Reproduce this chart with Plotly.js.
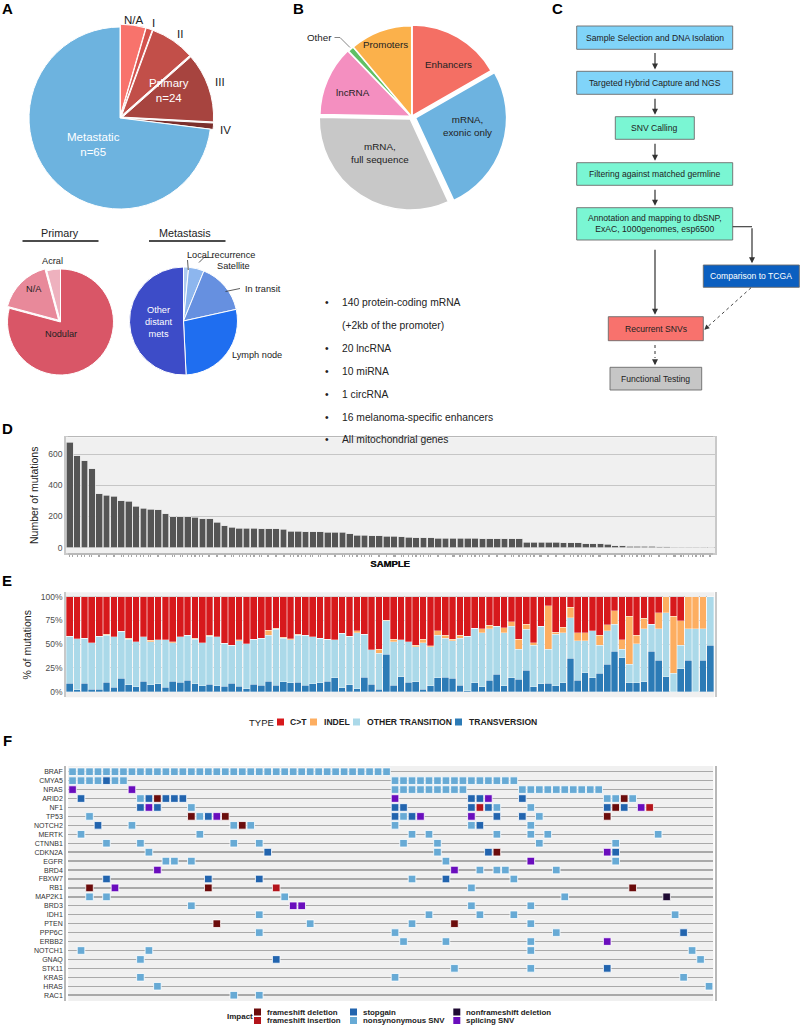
<!DOCTYPE html>
<html>
<head>
<meta charset="utf-8">
<script src="https://cdn.plot.ly/plotly-3.0.1.min.js"></script>
<style>
html,body{margin:0;padding:0;background:#ffffff;}
#fig{width:800px;height:1026px;}
</style>
</head>
<body>
<div id="fig"></div>
<script>
// ================= DATA =================
// Panel A
const stageLabels = ['N/A','I','II','III','IV','Metastatic'];
const stageCounts = [4,1,7,11,1,65];
const primarySubtypes = ['Nodular','N/A','Acral'];
const primarySubtypeCounts = [19,4,1];
const metastasisSites = ['Local recurrence','Satellite','In transit','Lymph node','Other distant mets'];
const metastasisCounts = [1,3,10,18,33];
// Panel B
const targetRegions = ['Enhancers','mRNA, exonic only','mRNA, full sequence','lncRNA','Other','Promoters'];
const targetShares = [16.7,26.4,32.2,12.5,1.1,11.1];
const panelContents = ['140 protein-coding mRNA','(+2kb of the promoter)','20 lncRNA','10 miRNA','1 circRNA','16 melanoma-specific enhancers','All mitochondrial genes'];
const panelBullets = [true,false,true,true,true,true,true];
// Panel C
const workflowSteps = ['Sample Selection and DNA Isolation','Targeted Hybrid Capture and NGS','SNV Calling','Filtering against matched germline','Annotation and mapping to dbSNP,<br>ExAC, 1000genomes, esp6500','Comparison to TCGA','Recurrent SNVs','Functional Testing'];
// Panel D : mutations per sample (sorted)
const mutationCounts = [674,588,558,505,344,336,329,302,297,265,252,246,244,218,199,199,197,195,186,186,
  163,141,130,124,124,124,122,120,120,118,105,105,103,103,103,100,98,98,90,81,
  79,75,75,73,73,70,66,65,64,63,62,61,61,60,60,59,58,58,57,57,
  56,56,36,35,35,34,34,33,33,32,26,25,24,23,14,13,10,9,9,8,
  5,5,4,3,2,2,2,1];
// Panel E : % of mutations by type, same sample order
const pctTransversion = [8.8,1.8,8.8,2.8,2.8,9.8,4.6,14.0,7.4,5.3,10.9,7.4,8.1,4.9,10.9,9.8,11.9,8.1,6.0,7.7,
  6.0,5.6,9.1,5.6,3.2,7.7,6.7,11.2,6.7,10.5,9.5,9.8,6.7,8.1,9.5,11.2,14.7,4.2,7.4,3.2,
  15.1,7.7,2.8,39.3,6.7,15.8,9.8,10.5,2.8,6.0,14.7,15.1,14.0,6.7,1.0,9.5,5.3,12.3,18.6,6.0,
  14.7,13.0,22.8,5.3,8.4,8.8,6.3,9.5,35.1,12.3,20.0,14.7,19.3,28.8,42.5,35.8,9.5,9.5,10.5,42.5,
  33.0,15.8,0,24.2,33.0,0,33.0,49.1];
const pctOtherTransition = [49.8,54.0,47.7,48.8,55.8,49.5,53.3,49.5,48.0,47.3,47.0,45.2,46.6,49.8,40.7,48.1,47.4,47.3,45.6,50.9,
  51.9,45.3,40.0,48.1,47.0,47.4,49.8,48.4,58.9,46.0,45.2,49.5,52.9,49.8,46.6,44.2,40.0,57.2,51.2,58.9,
  45.6,36.2,37.6,35.4,45.9,38.6,42.8,36.9,48.8,41.4,44.6,41.0,39.7,49.4,57.6,57.2,56.8,54.0,50.5,56.1,
  54.4,31.6,42.8,43.8,60.7,36.1,54.4,52.6,42.8,41.4,33.7,49.5,29.8,35.4,28.4,9.1,19.6,40.7,55.5,28.4,
  33.0,67.4,19.3,24.9,33.0,66.0,33.0,50.9];
const pctIndel = [0,0,0,0,0,1.1,0,0,0.6,0,0,1.4,0,0,0.7,0,0,1.1,0,1.0,
  0,0,0,1.0,0,0,0,5.3,1.1,1.0,1.1,1.1,0,0,0,0,0,0,0,2.1,
  0,0,4.2,0.7,2.5,0,0,1.4,3.5,0.7,4.6,3.2,1.4,3.5,0,0,4.2,3.5,0,5.3,
  4.6,10.5,5.3,2.5,0,45.3,2.1,5.6,10.9,8.4,8.4,0,10.2,6.0,14.4,9.5,50.5,9.4,11.2,0,
  17.2,16.8,60.3,25.6,34.0,34.0,34.0,0];
const pctCtoT = [41.4,44.2,43.5,48.4,41.4,39.6,42.1,36.5,44.0,47.4,42.1,46.0,45.3,45.3,47.7,42.1,40.7,43.5,48.4,40.4,
  42.1,49.1,50.9,45.3,49.8,44.9,43.5,35.1,33.3,42.5,44.2,39.6,40.4,42.1,43.9,44.6,45.3,38.6,41.4,35.8,
  39.3,56.1,55.4,24.6,44.9,45.6,47.4,51.2,44.9,51.9,36.1,40.7,44.9,40.4,41.4,33.3,33.7,30.2,30.9,32.6,
  26.3,44.9,29.1,48.4,30.9,9.8,37.2,32.3,11.2,37.9,37.9,35.8,40.7,29.8,14.7,45.6,20.4,40.4,22.8,29.1,
  16.8,0,20.4,25.3,0,0,0,0];
const mutationTypes = ['TRANSVERSION','OTHER TRANSITION','INDEL','C>T'];
// Panel F : oncoprint (one string per gene, one char per sample column; '|' every 10 columns)
// D=frameshift deletion, I=frameshift insertion, S=stopgain, N=nonsynonymous SNV, X=nonframeshift deletion, P=splicing SNV
const oncoGenes = ['BRAF','CMYA5','NRAS','ARID2','NF1','TP53','NOTCH2','MERTK','CTNNB1','CDKN2A','EGFR','BRD4','FBXW7','RB1','MAP2K1','BRD3','IDH1','PTEN','PPP6C','ERBB2','NOTCH1','GNAQ','STK11','KRAS','HRAS','RAC1'];
const oncoMatrix = [
 'NNNNNNNNNN|NNNNNNNNNN|NNNNNNNNNN|NNNNNNNN..|..........|..........|..........|......',
 'NNNNSNN...|..........|..........|........NN|NNNNNNNNNN|NNN.......|..........|......',
 'P......P..|..........|..........|........NN|NNNNNNN...|...NNNNNNN|NNN.......|......',
 '.S......NS|DSSS......|..........|........P.|.......SSP|...S......|...NNDN...|......',
 '........SP|S...N.....|..........|........SS|.......SIS|N...N.....|...SDS.PI.|......',
 '..N.......|....DNSPD.|..........|........SN|SP.....P..|S..S.N....|...D......|......',
 '...S...N..|.........N|DN........|........N.|.......NS.|....N.....|..........|......',
 '.N........|.....N....|..........|..........|N.N.......|N...N.N...|.........N|......',
 '....N...N.|.........N|..N.......|.........N|...N......|.....N....|....N.....|......',
 '.........N|..........|...S......|..........|...N.....S|D.........|...PS.....|......',
 '..........|.NN.N.....|..........|..........|....N.....|....P.....|....N.....|......',
 '..........|P.........|..........|..........|.....P..N.|NN.....N..|..........|......',
 '....S.....|......S...|..S.......|..........|N...S.....|..N.......|..........|......',
 '..D..P....|......D...|....I.....|..........|.......N..|..........|......D...|......',
 '..N.N.....|..........|.....N....|..........|..........|........N.|..........|X.....',
 '..........|....N.....|......PP..|..........|.......N..|....N.....|..........|......',
 '..........|..........|..N.......|..........|..N.....N.|..N.......|..........|.N....',
 '..........|.......D..|........N.|..........|N....D....|....N.....|..........|......',
 '..........|..........|..N.......|........N.|..........|.......N..|..........|..S...',
 '..........|..........|..........|.........N|....N.....|....N.....|...P......|......',
 '.N.......N|..........|..........|..........|..........|....N.....|..........|...N..',
 '........N.|..........|....S.....|..........|..........|..........|..........|....N.',
 '..........|..........|..........|..........|.....N....|....N.....|...S......|......',
 '........N.|..........|..........|........N.|..........|..........|..........|..N...',
 '..........|N.........|..........|..........|..........|..........|..........|.....N',
 '..........|.........N|..N.......|..........|..........|..........|..........|......'
];
const impactTypes = ['frameshift deletion','frameshift insertion','stopgain','nonsynonymous SNV','nonframeshift deletion','splicing SNV'];
const impactCodes = ['D','I','S','N','X','P'];

// ================= STYLE =================
const FONT = 'Liberation Sans, Arial, Helvetica, sans-serif';
const W = 800, H = 1026;
const P = x => x / W;
const Q = y => 1 - y / H;
const stageColors = ['#f8736c','#d3524d','#c24f49','#a7443f','#7b2f2c','#6db3df'];
const primaryColors = ['#d95667','#e8899a','#eeb1be'];
const metColors = ['#aecbf0','#8db6ee','#6690e0','#1f6ef0','#3d4cc8'];
const regionColors = ['#f46f64','#6db3e0','#c8c8c8','#f48fc0','#5fc065','#fbb14b'];
const typeColors = {'TRANSVERSION':'#2c7bb6','OTHER TRANSITION':'#abd9e9','INDEL':'#fdae61','C>T':'#d7191c'};
const impactColors = ['#6b0c0c','#b3141b','#2264ae','#67aad5','#1f0b33','#6a0dbd'];

function pieDomain(cx, cy, r, pull){
  const h = r * (1 + pull);
  return {x:[P(cx - h), P(cx + h)], y:[Q(cy + h), Q(cy - h)]};
}

const traces = [];
// ---- Panel A pies
traces.push({type:'pie', labels:stageLabels, values:stageCounts, sort:false, direction:'clockwise', rotation:0,
  marker:{colors:stageColors, line:{color:'#ffffff', width:1}}, pull:[0.03,0.03,0.03,0.03,0.03,0],
  textinfo:'none', hoverinfo:'skip', showlegend:false, domain:pieDomain(120,118,91,0.03)});
traces.push({type:'pie', labels:primarySubtypes, values:primarySubtypeCounts, sort:false, direction:'clockwise', rotation:0,
  marker:{colors:primaryColors, line:{color:'#ffffff', width:1}}, pull:[0,0.05,0],
  textinfo:'none', hoverinfo:'skip', showlegend:false, domain:pieDomain(60.5,322,53,0.05)});
traces.push({type:'pie', labels:metastasisSites, values:metastasisCounts, sort:false, direction:'clockwise', rotation:0,
  marker:{colors:metColors, line:{color:'#ffffff', width:1}},
  textinfo:'none', hoverinfo:'skip', showlegend:false, domain:pieDomain(183.5,321,54,0)});
// ---- Panel B pie
traces.push({type:'pie', labels:targetRegions, values:targetShares, sort:false, direction:'clockwise', rotation:0,
  marker:{colors:regionColors, line:{color:'#ffffff', width:1.5}}, pull:[0.01,0.045,0.03,0.01,0,0],
  textinfo:'none', hoverinfo:'skip', showlegend:false, domain:pieDomain(411.7,116.7,91,0.045)});

// ---- Panel D
const sampleIdx = mutationCounts.map((v, i) => i);
traces.push({type:'bar', x:sampleIdx, y:mutationCounts, xaxis:'x', yaxis:'y',
  marker:{color:'#555555', line:{color:'#e4e4e4', width:0.7}}, hoverinfo:'skip', showlegend:false});

// ---- Panel E
const typeSeries = {'TRANSVERSION':pctTransversion,'OTHER TRANSITION':pctOtherTransition,'INDEL':pctIndel,'C>T':pctCtoT};
mutationTypes.forEach(t => {
  traces.push({type:'bar', name:t, x:sampleIdx, y:typeSeries[t], xaxis:'x2', yaxis:'y2',
    marker:{color:typeColors[t], line:{color:'rgba(255,255,255,0.55)', width:0.6}}, hoverinfo:'skip', showlegend:false});
});

// ---- Panel F
const cellX = impactCodes.map(() => []), cellY = impactCodes.map(() => []);
oncoMatrix.forEach((row, g) => {
  const s = row.replace(/\|/g, '');
  for (let c = 0; c < s.length; c++) {
    const k = impactCodes.indexOf(s[c]);
    if (k >= 0) { cellX[k].push(c); cellY[k].push(g); }
  }
});
const nCols = oncoMatrix[0].replace(/\|/g,'').length;
impactTypes.forEach((t, k) => {
  traces.push({type:'scatter', mode:'markers', name:t, x:cellX[k], y:cellY[k], xaxis:'x3', yaxis:'y3',
    marker:{symbol:'square', size:7.6, color:impactColors[k], line:{color:'#ffffff', width:0.8}},
    hoverinfo:'skip', showlegend:false});
});

// ================= LAYOUT =================
const shapes = [];
const annotations = [];
function txt(x, y, text, size, opt) {
  const a = {xref:'paper', yref:'paper', x:P(x), y:Q(y), text:text, showarrow:false,
    font:{family:FONT, size:size, color:'#222222'}, xanchor:'center', yanchor:'middle'};
  if (opt) { for (const k in opt) { if (k === 'font') Object.assign(a.font, opt.font); else a[k] = opt[k]; } }
  annotations.push(a);
}
function lineShape(x0, y0, x1, y1, color, width, dash) {
  shapes.push({type:'line', xref:'paper', yref:'paper', x0:P(x0), y0:Q(y0), x1:P(x1), y1:Q(y1),
    line:{color:color, width:width, dash:dash || 'solid'}, layer:'above'});
}
function rectShape(x0, y0, x1, y1, fill, lineColor, lw) {
  shapes.push({type:'rect', xref:'paper', yref:'paper', x0:P(x0), y0:Q(y1), x1:P(x1), y1:Q(y0),
    fillcolor:fill, line:{color:lineColor || fill, width:lw === undefined ? 1 : lw}, layer:'above'});
}
function arrowTo(x, y, dx, dy, color, width) {
  annotations.push({xref:'paper', yref:'paper', x:P(x), y:Q(y), ax:-dx, ay:-dy, text:'', showarrow:true,
    arrowhead:2, arrowsize:1, arrowwidth:width || 1.2, arrowcolor:color || '#333333', standoff:0, startstandoff:0});
}

// Panel letters
[['A',7,8],['B',298,8],['C',557,8],['D',7,428],['E',7,580],['F',7,740]].forEach(l =>
  txt(l[1], l[2], '<b>' + l[0] + '</b>', 15, {font:{color:'#000000'}}));

// Panel A labels
txt(134, 20, stageLabels[0], 11.5);
txt(153, 23, stageLabels[1], 11.5);
txt(180, 34, stageLabels[2], 11.5);
txt(220, 82, stageLabels[3], 11.5);
txt(226, 130, stageLabels[4], 11.5);
txt(169, 91, 'Primary<br>n=24', 11.5, {font:{color:'#ffffff'}});
txt(93, 144, 'Metastatic<br>n=65', 11.5, {font:{color:'#ffffff'}});
txt(60, 233, 'Primary', 10.8);
lineShape(22.5, 241, 98.5, 241, '#111111', 1.5);
txt(185, 233, 'Metastasis', 10.8);
lineShape(149, 241, 225.5, 241, '#111111', 1.5);
txt(52, 261, primarySubtypes[2], 9.2);
txt(34, 289, primarySubtypes[1], 9.2);
txt(61, 334, primarySubtypes[0], 9.2);
txt(158.5, 322, 'Other<br>distant<br>mets', 9.2, {font:{color:'#ffffff'}});
txt(230, 355, metastasisSites[3], 9.2, {xanchor:'left'});
txt(242.5, 288.5, metastasisSites[2], 9.2, {xanchor:'left'});
lineShape(225.5, 291.5, 240, 288.5, '#333333', 0.8);
txt(215.5, 266, metastasisSites[1], 9.2, {xanchor:'left'});
lineShape(199, 262.5, 204, 257.5, '#333333', 0.8);
lineShape(204, 257.5, 213.5, 257.5, '#333333', 0.8);
txt(185, 255.5, metastasisSites[0], 9.2, {xanchor:'left'});
lineShape(188.3, 270, 187.5, 260, '#333333', 0.8);

// Panel B labels
txt(448.3, 64, targetRegions[0], 9.8);
txt(467, 126, 'mRNA,<br>exonic only', 9.8);
txt(379.5, 152.5, 'mRNA,<br>full sequence', 9.8);
txt(352.7, 92, targetRegions[3], 9.8);
txt(385, 44.3, targetRegions[5], 9.8);
txt(334, 37.5, targetRegions[4], 9.8, {xanchor:'right'});
lineShape(334.5, 37.5, 340, 37.5, '#666666', 0.8);
lineShape(340, 37.5, 350, 47.5, '#666666', 0.8);
const bulletY = [303, 326, 348.5, 371, 394, 417, 439.5];
panelContents.forEach((t, i) => {
  if (panelBullets[i]) txt(326.5, bulletY[i], '•', 10.3);
  txt(340, bulletY[i], t, 10.3, {xanchor:'left'});
});

// Panel C flowchart
const boxes = [
  [576.7, 26, 732.7, 49.3, '#80d4f9', '#222222'],
  [576.7, 71.3, 732.7, 94.3, '#80d4f9', '#222222'],
  [615.3, 116.7, 694.3, 139.3, '#7af6d3', '#222222'],
  [576.7, 162.7, 732.7, 185.3, '#7af6d3', '#222222'],
  [576.7, 207.7, 732.7, 240, '#7af6d3', '#222222'],
  [703.3, 265, 799.3, 287.3, '#0b5fc0', '#ffffff'],
  [608.3, 316.7, 703.3, 340.7, '#f8726d', '#222222'],
  [610, 367.3, 701.7, 390, '#c6c6c6', '#222222']
];
boxes.forEach((b, i) => {
  rectShape(b[0], b[1], b[2], b[3], b[4], '#6b6b6b', 0.9);
  txt((b[0] + b[2]) / 2, (b[1] + b[3]) / 2, workflowSteps[i], 8.6, {font:{color:b[5]}});
});
arrowTo(655, 69.5, 0, 18);
arrowTo(655, 114.8, 0, 17.5);
arrowTo(655, 160.8, 0, 18.5);
arrowTo(655, 205.8, 0, 17.5);
arrowTo(655, 314.8, 0, 66.5);
lineShape(655, 345, 655, 358, '#333333', 1, 'dot');
arrowTo(655, 365.3, 0, 6);
lineShape(732.7, 226.7, 752, 226.7, '#333333', 1.1);
arrowTo(752, 263.3, 0, 36.6);
lineShape(751, 287.8, 708.5, 326, '#333333', 0.9, 'dot');
arrowTo(704.3, 329.8, -4.6, 4.1, '#333333', 1);

// Panel E legend
txt(247, 722, 'TYPE', 9.5, {xanchor:'left', font:{color:'#222222'}});
const legE = [['C>T', 277, 288], ['INDEL', 310, 321.5], ['OTHER TRANSITION', 353, 364.5], ['TRANSVERSION', 455, 466.5]];
legE.forEach(l => {
  rectShape(l[1], 718.5, l[1] + 7, 725.5, typeColors[l[0]], typeColors[l[0]], 0);
  txt(l[2], 722, '<b>' + l[0] + '</b>', 8.6, {xanchor:'left'});
});

// Panel F legend
txt(225, 1016.5, '<b>Impact</b>', 8, {xanchor:'left'});
const legF = [[0, 254, 1008.5], [1, 254, 1017], [2, 350, 1008.5], [3, 350, 1017], [4, 453.3, 1008.5], [5, 453.3, 1017]];
legF.forEach(l => {
  rectShape(l[1], l[2], l[1] + 7, l[2] + 7, impactColors[l[0]], impactColors[l[0]], 0);
  txt(l[1] + 11, l[2] + 3.6, '<b>' + impactTypes[l[0]] + '</b>', 7.9, {xanchor:'left'});
});

const frame = {showline:true, mirror:true, linecolor:'#c9c9c9', linewidth:1.5, zeroline:false, fixedrange:true, automargin:false};
const layout = {
  width:W, height:H, margin:{l:0, r:0, t:0, b:0}, paper_bgcolor:'#ffffff', plot_bgcolor:'#f0f0f0',
  showlegend:false, barmode:'stack', bargap:0.09, font:{family:FONT, color:'#222222'},
  xaxis:Object.assign({}, frame, {domain:[P(65.7), P(715)], range:[-0.55, mutationCounts.length - 0.45], showgrid:false,
    ticks:'outside', ticklen:2, tickcolor:'#a8a8a8', tickmode:'linear', tick0:0, dtick:1, showticklabels:false,
    title:{text:'<b>SAMPLE</b>', font:{size:9.5, color:'#111111'}, standoff:4}}),
  yaxis:Object.assign({}, frame, {domain:[Q(553.3), Q(437.3)], range:[-35.9, 707], tickvals:[0,200,400,600],
    showgrid:true, gridcolor:'#c6c6c6', gridwidth:1, ticks:'', tickfont:{size:8.5, color:'#4d4d4d'},
    title:{text:'Number of mutations', font:{size:10.5, color:'#222222'}, standoff:7}}),
  xaxis2:Object.assign({}, frame, {domain:[P(65.7), P(714.3)], range:[-0.55, mutationCounts.length - 0.45], showgrid:false,
    ticks:'outside', ticklen:2, tickcolor:'#a8a8a8', tickmode:'linear', tick0:0, dtick:1, showticklabels:false,
    title:{text:'<b>SAMPLE</b>', font:{size:9.5, color:'#111111'}, standoff:4}}),
  yaxis2:Object.assign({}, frame, {domain:[Q(697.3), Q(592.3)], range:[-5.9, 104.6], tickvals:[0,25,50,75,100],
    ticktext:['0%','25%','50%','75%','100%'], showgrid:true, gridcolor:'#c6c6c6', gridwidth:1, ticks:'',
    tickfont:{size:8.5, color:'#4d4d4d'}, title:{text:'% of mutations', font:{size:10.5, color:'#222222'}, standoff:7}}),
  xaxis3:Object.assign({}, frame, {domain:[P(68.3), P(713.3)], range:[-0.5, nCols - 0.5], showgrid:false,
    linecolor:'#b8b8b8', ticks:'outside', ticklen:2, tickcolor:'#a8a8a8', tickmode:'linear', tick0:0, dtick:1, showticklabels:false}),
  yaxis3:Object.assign({}, frame, {domain:[Q(1001), Q(766)], range:[oncoGenes.length - 0.35, -0.64],
    tickvals:oncoGenes.map((g, i) => i), ticktext:oncoGenes, linecolor:'#b8b8b8',
    showgrid:true, gridcolor:'#a9a9a9', gridwidth:1.4, ticks:'', tickfont:{size:7, color:'#333333'}}),
  shapes:shapes, annotations:annotations
};
Plotly.newPlot('fig', traces, layout, {staticPlot:true, displayModeBar:false});
</script>
</body>
</html>
